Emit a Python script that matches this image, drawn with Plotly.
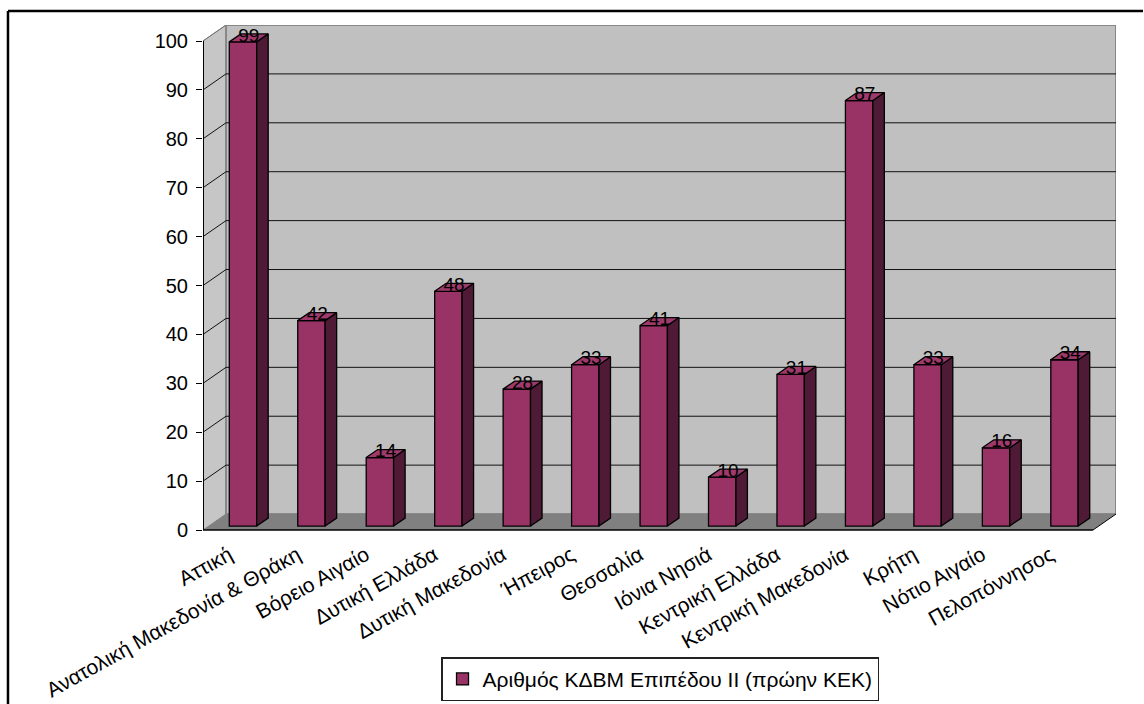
import plotly.graph_objects as go

# Training centres (ΚΔΒΜ level II) per region
regions = [
    "Αττική", "Ανατολική Μακεδονία & Θράκη", "Βόρειο Αιγαίο", "Δυτική Ελλάδα",
    "Δυτική Μακεδονία", "Ήπειρος", "Θεσσαλία", "Ιόνια Νησιά", "Κεντρική Ελλάδα",
    "Κεντρική Μακεδονία", "Κρήτη", "Νότιο Αιγαίο", "Πελοπόννησος",
]
counts = [99, 42, 14, 48, 28, 33, 41, 10, 31, 87, 33, 16, 34]
series_name = "Αριθμός ΚΔΒΜ Επιπέδου II (πρώην ΚΕΚ)"
y_ticks = list(range(0, 101, 10))

FONT = "Arial, Liberation Sans, sans-serif"
FRONT = "#993366"
SIDE = "#4f1a35"
TOP = "#a03a6c"
WALL = "#c0c0c0"
SIDE_WALL = "#c6c6c6"
FLOOR = "#808080"

# pseudo-3D geometry (depth vector in data units)
n = len(regions)
DX = 0.3363          # depth along x (category units)
DY = 3.272           # depth along y (value units)
Y_TOP = y_ticks[-1]
BAR_W = 0.4
sx, sy = 0.25 * DX, 0.25 * DY      # front face of bars sits a quarter deep
hx, hy = 0.5 * DX, 0.5 * DY        # bar depth

x_left = -0.5
x_right = n - 0.5

shapes = []
# left side wall
shapes.append(dict(type="path", layer="below",
                   path=f"M{x_left},0 L{x_left+DX},{DY} L{x_left+DX},{Y_TOP+DY} L{x_left},{Y_TOP} Z",
                   fillcolor=SIDE_WALL, line=dict(color="#808080", width=1)))
# back wall
shapes.append(dict(type="rect", layer="below",
                   x0=x_left + DX, x1=x_right + DX, y0=DY, y1=Y_TOP + DY,
                   fillcolor=WALL, line=dict(color="#888888", width=2)))
# floor
shapes.append(dict(type="path", layer="below",
                   path=f"M{x_left},0 L{x_right},0 L{x_right+DX},{DY} L{x_left+DX},{DY} Z",
                   fillcolor=FLOOR, line=dict(width=0)))
# gridlines on back wall and side wall
for v in y_ticks[1:]:
    col = "#777777" if v == Y_TOP else "#111111"
    if v < Y_TOP:
        shapes.append(dict(type="line", layer="below", x0=x_left + DX, x1=x_right + DX,
                           y0=v + DY, y1=v + DY, line=dict(color=col, width=1)))
    shapes.append(dict(type="line", layer="below", x0=x_left, x1=x_left + DX,
                       y0=v, y1=v + DY, line=dict(color=col, width=1)))
# floor edges and front axes
shapes.append(dict(type="line", layer="below", x0=x_right, x1=x_right + DX, y0=0, y1=DY,
                   line=dict(color="black", width=1)))
shapes.append(dict(type="line", layer="below", x0=x_left, x1=x_right, y0=0, y1=0,
                   line=dict(color="black", width=1.5)))
shapes.append(dict(type="line", layer="below", x0=x_left, x1=x_left, y0=0, y1=Y_TOP,
                   line=dict(color="black", width=2)))
# outer chart frame (top and left edges)
frame_x, frame_y = -0.2136, 1.0277
shapes.append(dict(type="line", xref="paper", yref="paper", x0=frame_x, x1=1.0296,
                   y0=frame_y, y1=frame_y, line=dict(color="black", width=2.5)))
shapes.append(dict(type="line", xref="paper", yref="paper", x0=frame_x, x1=frame_x,
                   y0=-0.34, y1=frame_y, line=dict(color="black", width=2.5)))

fig = go.Figure()

# front faces of the bars
fig.add_trace(go.Bar(
    x=[i + sx for i in range(n)], y=counts, base=sy, width=BAR_W,
    marker=dict(color=FRONT, line=dict(color="black", width=1.3)),
    name=series_name, hoverinfo="skip",
))

# side and top faces
side_x, side_y, top_x, top_y = [], [], [], []
for i, v in enumerate(counts):
    xl = i - BAR_W / 2 + sx
    xr = i + BAR_W / 2 + sx
    b, t = sy, v + sy
    side_x += [xr, xr + hx, xr + hx, xr, xr, None]
    side_y += [b, b + hy, t + hy, t, b, None]
    top_x += [xl, xr, xr + hx, xl + hx, xl, None]
    top_y += [t, t, t + hy, t + hy, t, None]

fig.add_trace(go.Scatter(x=side_x, y=side_y, mode="lines", fill="toself",
                         fillcolor=SIDE, line=dict(color="black", width=1.3),
                         showlegend=False, hoverinfo="skip"))
fig.add_trace(go.Scatter(x=top_x, y=top_y, mode="lines", fill="toself",
                         fillcolor=TOP, line=dict(color="black", width=1.3),
                         showlegend=False, hoverinfo="skip"))

# value labels above each bar
fig.add_trace(go.Scatter(
    x=[i + sx + hx / 2 for i in range(n)], y=[v + sy - 0.9 for v in counts],
    mode="text", text=[str(v) for v in counts], textposition="top center",
    textfont=dict(family=FONT, size=19, color="black"),
    showlegend=False, hoverinfo="skip", cliponaxis=False,
))

x_range = [x_left, x_right + DX]
fig.update_layout(
    width=1144, height=704,
    margin=dict(l=203, r=28, t=25, b=172, autoexpand=False),
    paper_bgcolor="white", plot_bgcolor="white",
    font=dict(family=FONT, size=19, color="black"),
    shapes=shapes,
    showlegend=True,
    legend=dict(x=0.2607, y=-0.247, xanchor="left", yanchor="top",
                bordercolor="#222222", borderwidth=1.5, bgcolor="white",
                font=dict(family=FONT, size=21, color="black")),
    xaxis=dict(range=x_range, tickmode="array", tickvals=[i - 0.12 for i in range(n)],
               ticktext=regions, tickangle=-29, ticks="", showgrid=False,
               zeroline=False, showline=False, ticklabelstandoff=6,
               tickfont=dict(family=FONT, size=21)),
    xaxis2=dict(range=x_range, overlaying="x", anchor="y", side="bottom",
                tickmode="array", tickvals=[k - 0.5 for k in range(n + 1)],
                ticks="outside", ticklen=6, tickcolor="black", tickwidth=1,
                showticklabels=False, showgrid=False, zeroline=False, showline=False),
    yaxis=dict(range=[-0.4, Y_TOP + DY], tickmode="array", tickvals=y_ticks,
               ticks="outside", ticklen=6, tickcolor="black", tickwidth=1,
               showgrid=False, zeroline=False, showline=False, ticklabelstandoff=4,
               tickfont=dict(family=FONT, size=20)),
)

fig.write_html("out.html")
